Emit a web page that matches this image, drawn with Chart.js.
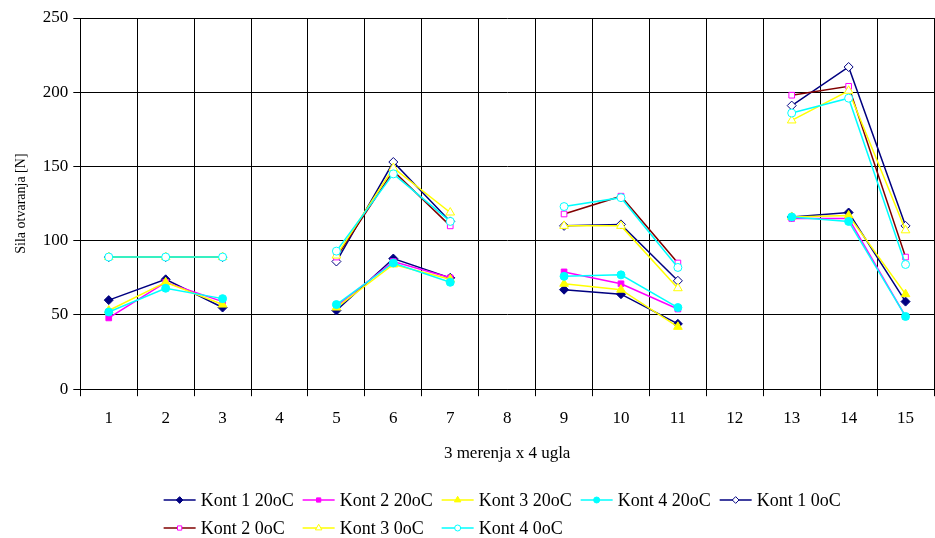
<!DOCTYPE html>
<html>
<head>
<meta charset="utf-8">
<script src="https://cdn.jsdelivr.net/npm/chart.js@4.4.1/dist/chart.umd.min.js"></script>
<style>
	body { margin: 0; background: #fff; overflow: hidden; }
	#wrap { width: 940px; height: 538px; position: relative; }
</style>
</head>
<body>
<div id="wrap"><canvas id="silaChart"></canvas></div>
<script>
const labels = ['1', '2', '3', '4', '5', '6', '7', '8', '9', '10', '11', '12', '13', '14', '15'];

// 3 merenja x 4 ugla, null = prazno mesto izmedju grupa
const kont1_20 = [60, 74, 55, null, 53, 88, 75, null, 67, 64, 44, null, 116, 119, 59];
const kont2_20 = [48, 72, 59, null, 56, 86, 75, null, 79, 71, 54, null, 115, 115, 49];
const kont3_20 = [53, 72, 57, null, 55, 84, 74, null, 71, 67, 42, null, 116, 117, 64];
const kont4_20 = [52, 68, 61, null, 57, 85, 72, null, 76, 77, 55, null, 116, 113, 49];
const kont1_0 = [89, 89, 89, null, 86, 153, 113, null, 110, 111, 73, null, 191, 217, 110];
const kont2_0 = [89, 89, 89, null, 89, 147, 110, null, 118, 130, 85, null, 198, 204, 89];
const kont3_0 = [89, 89, 89, null, 90, 149, 119, null, 110, 110, 68, null, 181, 201, 107];
const kont4_0 = [89, 89, 89, null, 93, 145, 113, null, 123, 129, 82, null, 186, 196, 84];

const serif = "'Liberation Serif', 'Times New Roman', serif";
Chart.defaults.font.family = serif;
Chart.defaults.color = '#000';

function serija(label, data, line, marker, fill, style, radius, idx) {
	return {
		label: label,
		data: data,
		borderColor: line,
		borderWidth: 1.5,
		pointStyle: style,
		pointRadius: radius,
		pointBorderColor: marker,
		pointBackgroundColor: fill,
		pointBorderWidth: 1,
		spanGaps: false,
		tension: 0,
		order: -idx
	};
}

const datasets = [
	serija('Kont 1 20oC', kont1_20, '#000080', '#000080', '#000080', 'rectRot', 4.5, 0),
	serija('Kont 2 20oC', kont2_20, '#ff00ff', '#ff00ff', '#ff00ff', 'rect', 4, 1),
	serija('Kont 3 20oC', kont3_20, '#ffff00', '#ffff00', '#ffff00', 'triangle', 5, 2),
	serija('Kont 4 20oC', kont4_20, '#00ffff', '#00ffff', '#00ffff', 'circle', 4, 3),
	serija('Kont 1 0oC', kont1_0, '#000080', '#000080', '#ffffff', 'rectRot', 4.5, 4),
	serija('Kont 2 0oC', kont2_0, '#800000', '#ff00ff', '#ffffff', 'rect', 4, 5),
	serija('Kont 3 0oC', kont3_0, '#ffff00', '#ffff00', '#ffffff', 'triangle', 5, 6),
	serija('Kont 4 0oC', kont4_0, '#00ffff', '#00ffff', '#ffffff', 'circle', 4, 7)
];

// legenda u dva reda, drugi red poravnat po kolonama prvog
const legendaUKolonama = {
	id: 'legendaUKolonama',
	afterDraw(chart) {
		const ctx = chart.ctx;
		const sets = chart.data.datasets;
		const perRow = 5;
		const lineLen = 32;
		ctx.save();
		ctx.font = '18px ' + serif;
		const widths = sets.map(ds => lineLen + 5 + ctx.measureText(ds.label).width + 9);
		const first = widths.slice(0, perRow);
		const total = first.reduce((a, b) => a + b, 0) - 9;
		const area = chart.chartArea;
		let x = (area.left + area.right) / 2 - 5 - total / 2;
		const cols = [];
		first.forEach(w => { cols.push(x); x += w; });
		sets.forEach((ds, i) => {
			const cx = cols[i % perRow];
			const cy = chart.height - 38 + Math.floor(i / perRow) * 28;
			ctx.strokeStyle = ds.borderColor;
			ctx.lineWidth = 1.5;
			ctx.beginPath();
			ctx.moveTo(cx, cy);
			ctx.lineTo(cx + lineLen, cy);
			ctx.stroke();
			ctx.fillStyle = ds.pointBackgroundColor;
			ctx.strokeStyle = ds.pointBorderColor;
			ctx.lineWidth = 1;
			Chart.helpers.drawPoint(ctx, {
				pointStyle: ds.pointStyle,
				radius: ds.pointRadius * 0.75,
				rotation: 0,
				borderWidth: 1
			}, cx + lineLen / 2, cy);
			ctx.fillStyle = '#000';
			ctx.textBaseline = 'middle';
			ctx.textAlign = 'left';
			ctx.fillText(ds.label, cx + lineLen + 5, cy + 1);
		});
		ctx.restore();
	}
};

const silaChart = new Chart(document.getElementById('silaChart'), {
	type: 'line',
	data: {
		labels: labels,
		datasets: datasets
	},
	options: {
		responsive: true,
		maintainAspectRatio: false,
		animation: false,
		layout: {
			padding: { top: 18, right: 0, bottom: 74, left: 13 }
		},
		plugins: {
			legend: { display: false },
			tooltip: { enabled: false }
		},
		scales: {
			x: {
				offset: true,
				grid: {
					offset: true,
					color: '#000',
					lineWidth: 1,
					tickLength: 7
				},
				border: { color: '#000', width: 1 },
				ticks: {
					font: { size: 17 },
					padding: 12
				},
				title: {
					display: true,
					text: '3 merenja x 4 ugla',
					font: { size: 17 },
					padding: { top: 3, bottom: 0 }
				}
			},
			y: {
				min: 0,
				max: 250,
				grid: {
					color: '#000',
					lineWidth: 1,
					tickLength: 7
				},
				border: { color: '#000', width: 1 },
				ticks: {
					stepSize: 50,
					font: { size: 17 },
					padding: 5
				},
				title: {
					display: true,
					text: 'Sila otvaranja [N]',
					font: { size: 14 },
					padding: { top: 0, bottom: 8 }
				}
			}
		}
	},
	plugins: [legendaUKolonama]
});
</script>
</body>
</html>
